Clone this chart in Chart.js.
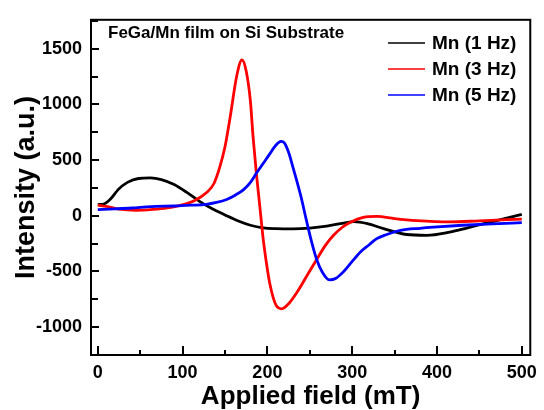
<!DOCTYPE html>
<html>
<head>
<meta charset="utf-8">
<script src="https://cdn.jsdelivr.net/npm/chart.js@4.4.0/dist/chart.umd.min.js"></script>
<style>
  html, body { margin: 0; padding: 0; background: #fff; }
</style>
</head>
<body>
<canvas id="fmrChart" width="544" height="410"></canvas>
<script>
// series (field in mT, intensity in a.u.)
const field1 = [0, 8, 15, 24, 35, 48, 62, 75, 90, 105, 120, 135, 150, 165, 180, 195, 210, 230, 250, 270, 290, 302, 318, 337, 364, 388, 415, 435, 454, 475, 500];
const mn1Hz  = [100, 108, 150, 235, 300, 335, 340, 325, 280, 210, 130, 63, 8, -45, -85, -108, -115, -117, -110, -93, -65, -52, -70, -115, -168, -175, -146, -110, -73, -35, 12];

const field3 = [0, 10, 25, 45, 65, 82, 102, 115, 128, 137, 144, 150, 156, 164, 170, 175, 180, 183, 187, 191, 195, 199, 203, 210, 217, 225, 236, 248, 259, 268, 278, 288, 298, 313, 329, 350, 376, 415, 450, 500];
const mn3Hz  = [95, 85, 60, 50, 58, 72, 103, 140, 206, 290, 441, 620, 881, 1262, 1400, 1300, 1027, 720, 382, 90, -205, -430, -615, -800, -835, -790, -674, -520, -381, -270, -175, -105, -58, -14, -5, -25, -43, -55, -45, -30];

const field5 = [0, 20, 40, 63, 90, 110, 128, 140, 152, 162, 172, 180, 187, 195, 203, 208, 212, 216, 220, 225, 230, 235, 240, 246, 252, 258, 265, 273, 281, 290, 300, 310, 320, 329, 340, 357, 380, 396, 430, 465, 500];
const mn5Hz  = [55, 62, 70, 83, 88, 95, 103, 120, 147, 185, 235, 300, 382, 470, 558, 615, 650, 668, 655, 570, 440, 305, 160, -40, -230, -390, -510, -575, -560, -500, -410, -322, -260, -205, -170, -131, -112, -102, -85, -72, -62];

const seriesNames = ['Mn (1 Hz)', 'Mn (3 Hz)', 'Mn (5 Hz)'];
const seriesColors = ['#000000', '#ff0000', '#0000ff'];
const xTicks = [0, 100, 200, 300, 400, 500];
const yTicks = [-1000, -500, 0, 500, 1000, 1500];
const plotTitle = 'FeGa/Mn film on Si Substrate';

const FONT = '"Liberation Sans", Arial, Helvetica, sans-serif';

function pairs(xs, ys) {
  return xs.map((x, i) => ({ x: x, y: ys[i] }));
}

function makeSet(i, xs, ys) {
  return {
    label: seriesNames[i],
    data: pairs(xs, ys),
    borderColor: seriesColors[i],
    backgroundColor: seriesColors[i],
    borderWidth: 2.8,
    pointRadius: 0,
    cubicInterpolationMode: 'monotone',
    order: 3 - i
  };
}

// frame, inward ticks, inset title and legend
const decorations = {
  id: 'decorations',
  afterDraw(chart) {
    const ctx = chart.ctx;
    const a = chart.chartArea;
    const xs = chart.scales.x, ys = chart.scales.y;
    ctx.save();
    ctx.strokeStyle = '#000';
    ctx.lineWidth = 2;
    ctx.strokeRect(a.left, a.top, a.right - a.left, a.bottom - a.top);

    ctx.beginPath();
    xTicks.forEach((v, i) => {
      const px = Math.round(xs.getPixelForValue(v));
      ctx.moveTo(px, a.bottom); ctx.lineTo(px, a.bottom - 9);
      if (i < xTicks.length - 1) {
        const pm = Math.round(xs.getPixelForValue((v + xTicks[i + 1]) / 2));
        ctx.moveTo(pm, a.bottom); ctx.lineTo(pm, a.bottom - 5);
      }
    });
    yTicks.forEach(v => {
      const py = Math.round(ys.getPixelForValue(v));
      ctx.moveTo(a.left, py); ctx.lineTo(a.left + 8, py);
      [v - 250, v + 250].forEach(m => {
        if (m > ys.min && m < ys.max && yTicks.indexOf(m) < 0) {
          const pm = Math.round(ys.getPixelForValue(m));
          ctx.moveTo(a.left, pm); ctx.lineTo(a.left + 7, pm);
        }
      });
    });
    ctx.stroke();

    ctx.fillStyle = '#000';
    ctx.font = 'bold 17px ' + FONT;
    ctx.textBaseline = 'alphabetic';
    ctx.textAlign = 'left';
    ctx.fillText(plotTitle, 108, 38);

    ctx.font = 'bold 19px ' + FONT;
    ctx.textBaseline = 'middle';
    seriesNames.forEach((name, i) => {
      const y = 43 + i * 26;
      ctx.strokeStyle = seriesColors[i];
      ctx.lineWidth = 1.6;
      ctx.beginPath();
      ctx.moveTo(388, y); ctx.lineTo(425, y);
      ctx.stroke();
      ctx.fillText(name, 432, y + 1);
    });
    ctx.restore();
  }
};

new Chart(document.getElementById('fmrChart').getContext('2d'), {
  type: 'line',
  data: {
    datasets: [
      makeSet(0, field1, mn1Hz),
      makeSet(1, field3, mn3Hz),
      makeSet(2, field5, mn5Hz)
    ]
  },
  options: {
    responsive: false,
    devicePixelRatio: 1,
    animation: false,
    layout: { padding: { left: 0, right: 10, top: 13, bottom: 0 } },
    plugins: { legend: { display: false }, tooltip: { enabled: false } },
    scales: {
      x: {
        type: 'linear',
        min: -8,
        max: 510,
        afterBuildTicks: s => { s.ticks = xTicks.map(v => ({ value: v })); },
        afterFit: s => { s.height = 55; },
        grid: { display: false, drawTicks: false },
        border: { display: false },
        ticks: { color: '#000', padding: 7, maxRotation: 0, autoSkip: false,
                 callback: v => String(v),
                 font: { family: FONT, size: 18, weight: 'bold' } },
        title: { display: true, text: 'Applied field (mT)', color: '#000',
                 font: { family: FONT, size: 26, weight: 'bold', lineHeight: 1 },
                 padding: { top: 0, bottom: 0 } }
      },
      y: {
        type: 'linear',
        min: -1250,
        max: 1760,
        afterBuildTicks: s => { s.ticks = yTicks.map(v => ({ value: v })); },
        afterFit: s => { s.width = 91; },
        grid: { display: false, drawTicks: false },
        border: { display: false },
        ticks: { color: '#000', padding: 9, autoSkip: false,
                 callback: v => String(v),
                 font: { family: FONT, size: 18, weight: 'bold' } },
        title: { display: true, text: 'Intensity (a.u.)', color: '#000',
                 font: { family: FONT, size: 27, weight: 'bold', lineHeight: 1 },
                 padding: { top: 13, bottom: 0 } }
      }
    }
  },
  plugins: [decorations]
});
</script>
</body>
</html>
